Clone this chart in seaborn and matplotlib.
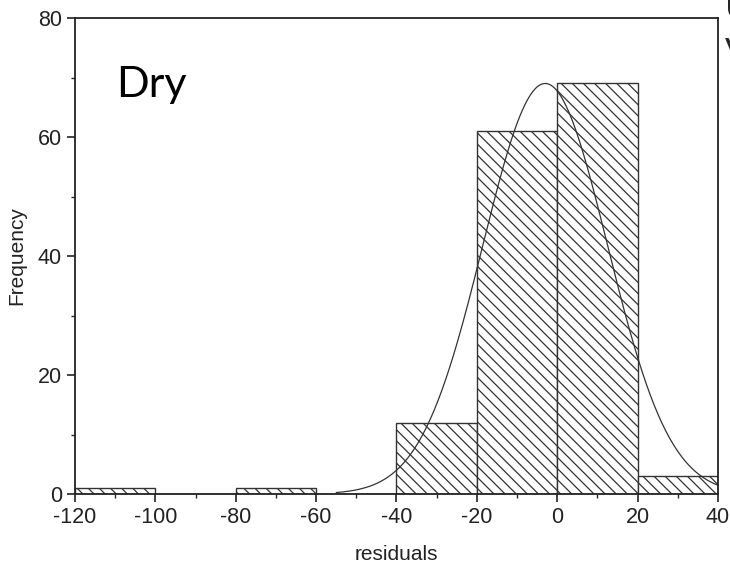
import numpy as np
import pandas as pd
import matplotlib
matplotlib.use("Agg")
import matplotlib.pyplot as plt
import seaborn as sns

# Data
bin_edges = [-120, -100, -80, -60, -40, -20, 0, 20, 40]
bin_centers = [-110, -90, -70, -50, -30, -10, 10, 30]
counts = [1, 0, 1, 0, 12, 61, 69, 3]
fit_mean = -3.0
fit_sigma = 15.5
fit_amplitude = 69.0
fit_xmin, fit_xmax = -55, 40
x_ticks = [-120, -100, -80, -60, -40, -20, 0, 20, 40]
y_ticks = [0, 20, 40, 60, 80]

sns.set_style("white")
plt.rcParams['font.family'] = ['Liberation Sans', 'DejaVu Sans']
plt.rcParams['axes.unicode_minus'] = False
plt.rcParams['hatch.color'] = '#555555'
plt.rcParams['hatch.linewidth'] = 0.9

fig = plt.figure(figsize=(7.30, 5.64), dpi=100)
ax = fig.add_axes([0.1027, 0.1241, 0.8809, 0.8439])

df = pd.DataFrame({"residuals": bin_centers, "count": counts})
sns.histplot(data=df, x="residuals", weights="count", bins=bin_edges,
             ax=ax, fill=True, facecolor="white", edgecolor="#222222",
             linewidth=1.0, alpha=1)
for p in ax.patches:
    p.set_hatch('\\\\\\')
    p.set_facecolor('white')
    p.set_edgecolor('#333333')

xs = np.linspace(fit_xmin, fit_xmax, 300)
ys = fit_amplitude * np.exp(-(xs - fit_mean) ** 2 / (2 * fit_sigma ** 2))
sns.lineplot(x=xs, y=ys, ax=ax, color="#333333", linewidth=0.9)

ax.set_xlim(-120, 40)
ax.set_ylim(0, 80)
ax.set_xticks(x_ticks)
ax.set_yticks(y_ticks)
ax.set_xticks(np.arange(-110, 40, 20), minor=True)
ax.set_yticks(np.arange(10, 80, 20), minor=True)
ax.tick_params(axis='both', which='major', direction='out', length=6, width=1.2,
               labelsize=15.5, colors='#222222', bottom=True, left=True, top=False, right=False)
ax.tick_params(axis='both', which='minor', direction='out', length=3, width=1.0,
               bottom=True, left=True, top=False, right=False)
for s in ax.spines.values():
    s.set_color('#222222')
    s.set_linewidth(1.3)

ax.set_xlabel("residuals", fontsize=15, color='#222222', labelpad=12)
ax.set_ylabel("Frequency", fontsize=15, color='#222222', labelpad=8)

ax.text(0.064, 0.86, "Dry", transform=ax.transAxes, fontsize=31,
        family=['Lato', 'DejaVu Sans'], color='black', va='center', ha='left')

fig.text(0.993, 0.985, "U", fontsize=26, family=['Lato', 'DejaVu Sans'], va='center', ha='left')
fig.text(0.993, 0.905, "V", fontsize=26, family=['Lato', 'DejaVu Sans'], va='center', ha='left')

fig.savefig("out.png", dpi=100)
